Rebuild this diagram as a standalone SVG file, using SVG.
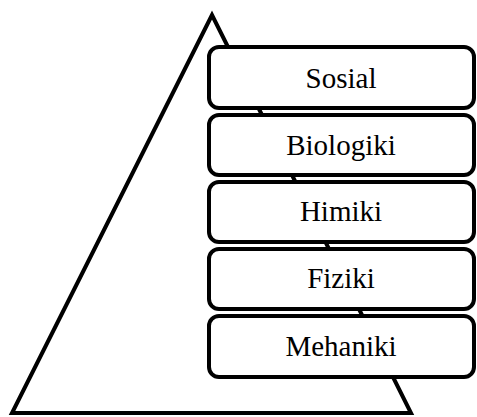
<svg xmlns="http://www.w3.org/2000/svg" width="477" height="417" viewBox="0 0 477 417">
<style>
.tri{fill:none;stroke:#000;stroke-width:4;stroke-linejoin:miter}
.box{fill:#fff;stroke:#000;stroke-width:4}
.lbl{font-family:"Liberation Serif","Times New Roman",serif;font-size:29px;fill:#000;text-anchor:middle}
</style>
<rect width="477" height="417" fill="#fff"/>
<g id="pyramid">
<polygon class="tri" points="212,15 12,413 411,413"/>
</g>
<g id="sosial">
<rect class="box" x="209" y="47" width="265" height="61" rx="10"/>
<text class="lbl" x="341" y="88">Sosial</text>
</g>
<g id="biologiki">
<rect class="box" x="209" y="115" width="265" height="60" rx="10"/>
<text class="lbl" x="341" y="154.5">Biologiki</text>
</g>
<g id="himiki">
<rect class="box" x="209" y="182" width="265" height="60" rx="10"/>
<text class="lbl" x="341" y="221">Himiki</text>
</g>
<g id="fiziki">
<rect class="box" x="209" y="249" width="265" height="60" rx="10"/>
<text class="lbl" x="341" y="288">Fiziki</text>
</g>
<g id="mehaniki">
<rect class="box" x="209" y="316" width="265" height="61" rx="10"/>
<text class="lbl" x="341" y="356">Mehaniki</text>
</g>
<g id="connectors"></g>
</svg>
